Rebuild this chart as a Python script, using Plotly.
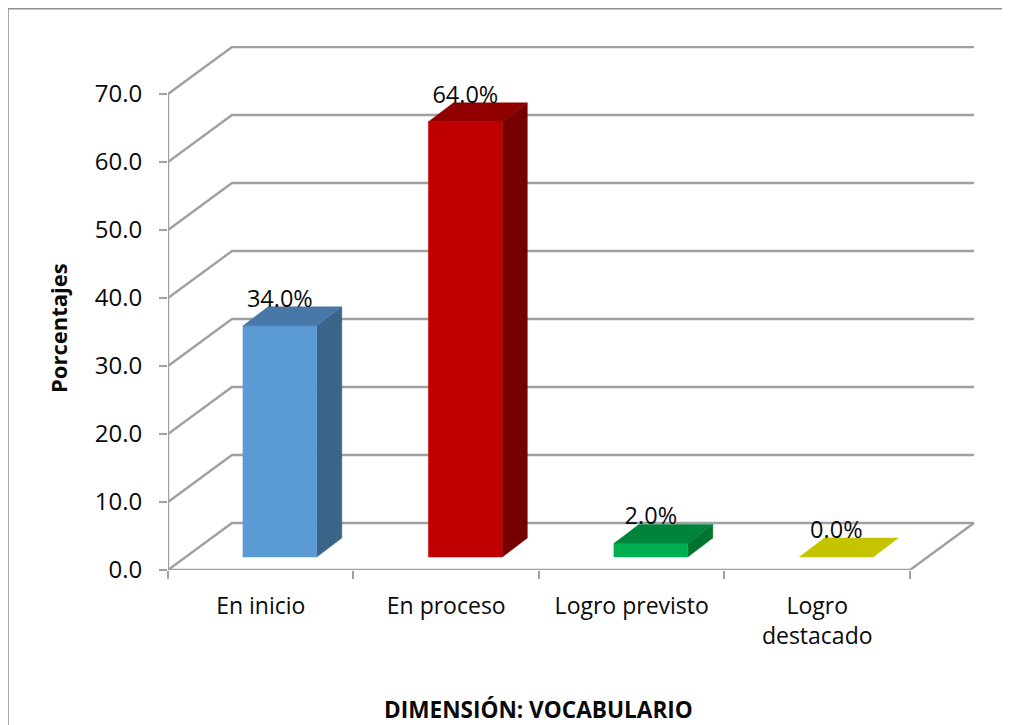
import plotly.graph_objects as go

categories = ["En inicio", "En proceso", "Logro previsto", "Logro<br>destacado"]
values = [34.0, 64.0, 2.0, 0.0]
value_labels = ["34.0%", "64.0%", "2.0%", "0.0%"]
y_ticks = [0, 10, 20, 30, 40, 50, 60, 70]
y_tick_labels = ["0.0", "10.0", "20.0", "30.0", "40.0", "50.0", "60.0", "70.0"]

front_colors = ["#5B9BD5", "#C00000", "#00B050", "#C4C400"]
top_colors = ["#4878A8", "#900000", "#00843C", "#C4C400"]
side_colors = ["#3B6488", "#760000", "#00742F", "#C4C400"]

GRID = "#A0A0A0"
FONT = "Open Sans"
INK = "#0A0A0A"

# fake 3D: depth of the chart box and of the bars, in axis units
DEPTH_X = 0.345
DEPTH_Y = 6.91
BAR_LEFT = 0.404
BAR_W = 0.398
BAR_BASE = 1.91
BAR_DX = 0.135
BAR_DY = 2.79
LABEL_GAP = 3.7


def line(xs, ys, color=GRID, width=2.4):
    return go.Scatter(x=xs, y=ys, mode="lines", line=dict(color=color, width=width),
                      hoverinfo="skip", cliponaxis=False, showlegend=False)


def face(xs, ys, color):
    return go.Scatter(x=xs, y=ys, mode="lines", fill="toself", fillcolor=color,
                      line=dict(color=color, width=0.5), hoverinfo="skip",
                      cliponaxis=False, showlegend=False)


fig = go.Figure()

n = len(categories)
for t in y_ticks:
    fig.add_trace(line([0, DEPTH_X, n + DEPTH_X], [t, t + DEPTH_Y, t + DEPTH_Y]))
fig.add_trace(line([n, n + DEPTH_X], [0, DEPTH_Y]))
fig.add_trace(line([0, 0], [0, y_ticks[-1]]))
fig.add_trace(line([0, n], [0, 0]))

for i, v in enumerate(values):
    x0 = i + BAR_LEFT
    x1 = x0 + BAR_W
    y0 = BAR_BASE
    y1 = BAR_BASE + v
    if v > 0:
        fig.add_trace(face([x1, x1 + BAR_DX, x1 + BAR_DX, x1, x1],
                           [y0, y0 + BAR_DY, y1 + BAR_DY, y1, y0], side_colors[i]))
        fig.add_trace(face([x0, x1, x1, x0, x0], [y0, y0, y1, y1, y0], front_colors[i]))
    fig.add_trace(face([x0, x1, x1 + BAR_DX, x0 + BAR_DX, x0],
                       [y1, y1, y1 + BAR_DY, y1 + BAR_DY, y1], top_colors[i]))

fig.add_trace(go.Scatter(
    x=[i + BAR_LEFT + BAR_W / 2 for i in range(n)],
    y=[v + BAR_BASE + LABEL_GAP for v in values],
    text=value_labels,
    mode="text",
    textposition="middle center",
    textfont=dict(family=FONT, size=23.5, color=INK),
    hoverinfo="skip",
    cliponaxis=False,
    showlegend=False,
))

# page body has an 8px margin, so everything sits 8px up and left
fig.update_layout(
    width=1002,
    height=717,
    margin=dict(l=160, r=34, t=38, b=155, autoexpand=False),
    plot_bgcolor="white",
    paper_bgcolor="white",
    font=dict(family=FONT, color=INK),
    showlegend=False,
    xaxis=dict(
        range=[0, n + DEPTH_X + 0.011],
        showgrid=False,
        zeroline=False,
        showline=False,
        tickmode="array",
        tickvals=[i + 0.5 for i in range(n)],
        ticktext=categories,
        ticklen=0,
        tickfont=dict(family=FONT, size=23, color=INK),
        ticklabelstandoff=20,
        minor=dict(tickmode="array", tickvals=list(range(n + 1)), ticks="outside",
                   ticklen=8, tickcolor=GRID, tickwidth=1.5),
    ),
    yaxis=dict(
        range=[0, 77.06],
        showgrid=False,
        zeroline=False,
        showline=False,
        tickmode="array",
        tickvals=y_ticks,
        ticktext=y_tick_labels,
        ticks="outside",
        ticklen=8,
        tickcolor=GRID,
        tickwidth=1.5,
        tickfont=dict(family=FONT, size=24, color=INK),
        ticklabelstandoff=12,
    ),
    annotations=[
        dict(text="<b>Porcentajes</b>", xref="paper", yref="paper", x=-0.136, y=0.462,
             textangle=-90, showarrow=False, xanchor="center", yanchor="middle",
             font=dict(family=FONT, size=22, color=INK)),
        dict(text="<b>DIMENSIÓN: VOCABULARIO</b>", xref="x", yref="paper", x=n / 2, y=-0.267,
             showarrow=False, xanchor="center", yanchor="middle",
             font=dict(family=FONT, size=22.6, color=INK)),
    ],
    shapes=[
        dict(type="line", xref="paper", yref="paper", x0=-0.198, x1=1.05, y0=1.071, y1=1.071,
             line=dict(color="#8E8E8E", width=1.5)),
        dict(type="line", xref="paper", yref="paper", x0=-0.198, x1=-0.198, y0=1.071, y1=-0.3,
             line=dict(color="#8E8E8E", width=1.5)),
    ],
)

fig.write_html("out.html")
